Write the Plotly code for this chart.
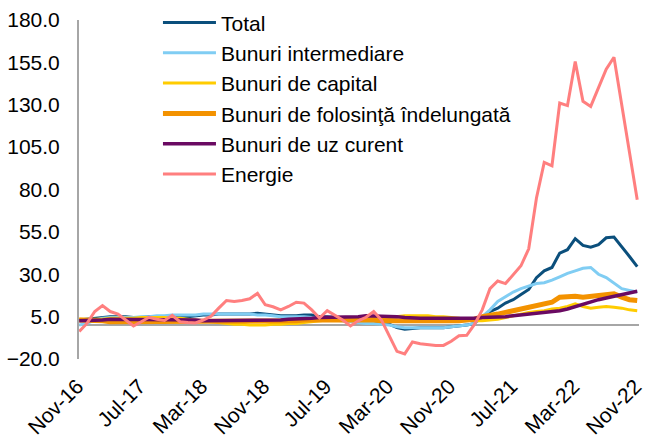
import plotly.graph_objects as go
import pandas as pd

months = [d.strftime("%b-%y") for d in pd.date_range("2016-11-01", "2022-11-01", freq="MS")]
tick_labels = months[::8]
y_ticks = [-20, 5, 30, 55, 80, 105, 130, 155, 180]

total = [3, 3.5, 4, 4.5, 5, 5, 5, 4.5, 4.5, 5, 5,
         5, 5.5, 5.5, 5, 5.5, 6, 6, 6.5, 6.5, 6.5,
         6.5, 6.5, 7, 6.5, 6, 5.5, 5.5, 5.5, 6, 6,
         5, 5, 4.5, 4, 3, 3, 2.5, 2, 1.5, 0.5,
         -1.5, -2.5, -2, -1.5, -1.5, -1.5, -1.5, -1, -0.5, 0, 1,
         5, 8, 10, 13, 15, 18, 21, 28, 32, 34, 42.5, 44.5, 51, 47, 46, 47.5, 51.5, 52, 46.5, 40.5, 34.5]

intermediare = [0, 1, 3, 4, 4.5, 4.5, 4.5, 4.5, 5, 5, 5.5,
                5.5, 6, 6, 6, 6, 6.5, 6.5, 6.5, 6.5, 6.5,
                6.5, 6.5, 6, 6, 5.5, 5, 5, 5, 5, 4.5,
                4, 3.5, 3, 2.5, 2, 1.5, 1, 1, 0.5, 0,
                -1, -1.5, -1.5, -1.5, -1.5, -1.5, -1.5, -1, -0.5, 0, 1,
                5, 9, 14, 17, 19.5, 21.5, 23, 24.5, 25, 26.5, 28.5, 30.5, 32, 33.5, 34, 30, 28, 25, 21.5, 20.5, 19.5]

capital = [3.5, 3.5, 3.5, 3.5, 4, 4, 4, 4, 4.5, 4.5, 4.5,
           4.5, 4, 4, 3.5, 3, 2.5, 2, 1.5, 1, 0.5,
           0.5, 0, 0, 0, 0.5, 0.5, 1, 1, 1.5, 2,
           2.5, 3, 3, 3, 3.5, 3.5, 4, 4, 4, 4.5,
           5, 5.5, 5.5, 5.5, 5.5, 5, 5, 4.5, 4, 3, 2.5,
           2.5, 3, 3.5, 4.5, 5.5, 6.5, 7.5, 8, 8.5, 9.5, 10, 11, 12.5, 11, 10, 10.5, 11, 10.5, 10, 9, 8.5]

folosinta = [3, 3, 2.5, 2.5, 2, 2, 2, 2, 2, 2, 2,
             2, 2, 2, 2, 2, 2, 2, 2, 2, 2,
             2, 2, 2, 2, 2, 2.5, 2.5, 2.5, 3, 3,
             3, 3, 3.5, 3.5, 3, 3, 3, 3, 2.5, 2.5,
             2.5, 2, 2, 2, 2, 2, 2, 2, 2.5, 3, 3.5,
             5, 5.5, 6.5, 7.5, 8.5, 10, 11, 12, 13, 13.5, 16.5, 17, 17, 16.5, 17, 18, 18.5, 18.5, 16.5, 15, 14.5]

uz_curent = [2.5, 2.5, 3, 3, 3.5, 3.5, 3.5, 3.5, 3.5, 3.5, 3.5,
             3.5, 3.5, 3.5, 3, 3, 2.5, 2.5, 2.5, 2.5, 2.5,
             2.5, 2.5, 2.5, 2.5, 3, 3, 3.5, 3.5, 4, 4,
             4.5, 4.5, 5, 5, 5, 5, 5.5, 5.5, 5.5, 5.5,
             5, 4.5, 4, 4, 4, 4, 3.5, 3.5, 3.5, 4, 4,
             4.5, 4.5, 5, 5, 5.5, 6, 6, 6.5, 7, 7.5, 8.5, 9.5, 11, 12.5, 14, 15, 16, 17, 17.5, 18.5, 20]

energie = [-3.8, 1, 8, 11.5, 8, 6.5, 3, -0.5, 2, 4.6, 3.5,
           2.7, 5.8, 2, 1.5, 1.3, 3, 5.2, 10, 14.5, 14,
           14.5, 15.5, 18.7, 12, 10.8, 9, 11, 13.5, 13, 9,
           4.2, 8.5, 6, 3, -0.5, 2.5, 4.6, 8, 3, -6,
           -15.5, -17, -10, -11, -11.5, -12, -12, -9.5, -6.3, -6, 0.4,
           9, 21.5, 26, 24.5, 30, 35, 45, 75, 96, 94, 131, 129.5, 155.5, 132, 129, 140, 151, 158, 130, 102, 74]

series = [
    ("Total", total, "#0B4F7C", 3),
    ("Bunuri intermediare", intermediare, "#80CDF3", 3),
    ("Bunuri de capital", capital, "#FFCC00", 3),
    ("Bunuri de folosinţă îndelungată", folosinta, "#F39200", 5),
    ("Bunuri de uz curent", uz_curent, "#6A0A62", 3.5),
    ("Energie", energie, "#FF7F7F", 3),
]

fig = go.Figure()
for name, vals, color, w in series:
    fig.add_trace(go.Scatter(x=months, y=vals, mode="lines", name=name,
                             legendgroup=name,
                             line=dict(color=color, width=w)))

font = "Liberation Sans, Arial, sans-serif"
fig.update_layout(
    width=647, height=441,
    margin=dict(l=79, r=2, t=18, b=76),
    plot_bgcolor="white", paper_bgcolor="white",
    font=dict(family=font, size=21, color="#000000"),
    showlegend=True,
    legend=dict(x=0.141, y=1.052, xanchor="left", yanchor="top",
                bgcolor="rgba(0,0,0,0)", font=dict(size=21),
                itemwidth=53, tracegroupgap=1, traceorder="normal"),
    xaxis=dict(type="category", tickmode="array", tickvals=tick_labels, ticktext=tick_labels,
               tickangle=-45, showgrid=False, showline=False, zeroline=False,
               ticks="", range=[-0.03, 72.23], ticklabelstandoff=10, ticklabelshift=-2),
    yaxis=dict(range=[-20, 180], tickvals=y_ticks, tickformat=".1f",
               showgrid=False, showline=True, linecolor="#A6A6A6", linewidth=2,
               zeroline=True, zerolinecolor="#A6A6A6", zerolinewidth=2,
               ticks="", ticklabelstandoff=13),
)
fig.write_html("out.html", config={"displayModeBar": False},
               post_script="document.body.style.margin='0';document.body.style.overflow='hidden';")
